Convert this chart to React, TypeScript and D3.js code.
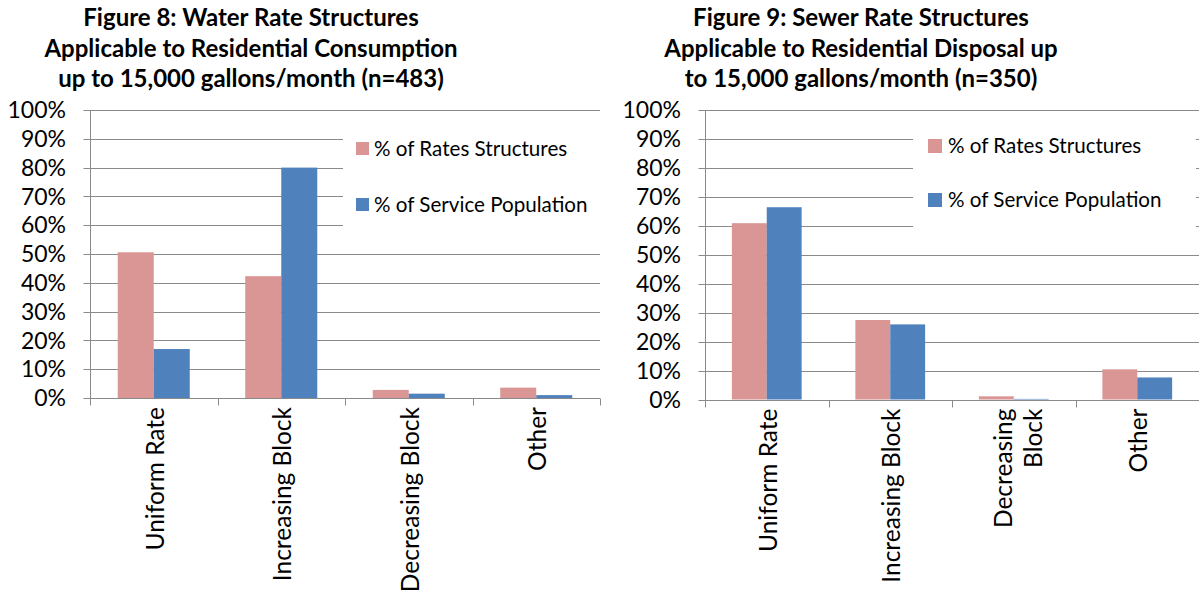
import * as d3 from "d3";
import React, { useEffect, useRef } from "react";

const categories = ["Uniform Rate", "Increasing Block", "Decreasing Block", "Other"];
const seriesNames = ["% of Rates Structures", "% of Service Population"];
const seriesColors = ["#d99694", "#4f81bd"];

const waterRates = [50.6, 42.3, 2.8, 3.6];
const waterPopulation = [17.0, 80.0, 1.5, 1.0];
const sewerRates = [60.8, 27.4, 1.1, 10.4];
const sewerPopulation = [66.3, 25.9, 0.2, 7.6];

const yTicks = [0, 10, 20, 30, 40, 50, 60, 70, 80, 90, 100];

const waterTitle = [
  "Figure 8: Water Rate Structures",
  "Applicable to Residential Consumption",
  "up to 15,000 gallons/month (n=483)",
];
const sewerTitle = [
  "Figure 9: Sewer Rate Structures",
  "Applicable to Residential Disposal up",
  "to 15,000 gallons/month (n=350)",
];
const waterCategoryLines = [["Uniform Rate"], ["Increasing Block"], ["Decreasing Block"], ["Other"]];
const sewerCategoryLines = [["Uniform Rate"], ["Increasing Block"], ["Decreasing", "Block"], ["Other"]];

const FONT = "Lato, 'Open Sans', sans-serif";
const GRID = "#8a8a8a";

type ChartOpts = {
  left: number;
  right: number;
  top: number;
  bottom: number;
  titleX: number;
  labelRight: number;
  rates: number[];
  pop: number[];
  title: string[];
  catLines: string[][];
  legend: { x: number; y: number; w: number; h: number; sx: number; sy: number[]; size: number; tx: number };
};

function drawChart(root: d3.Selection<SVGSVGElement, unknown, null, undefined>, o: ChartOpts) {
  const g = root.append("g");
  const x = d3.scaleBand().domain(categories).range([o.left, o.right]);
  const xs = d3.scaleBand().domain(seriesNames).range([0, x.bandwidth()]).paddingOuter(0.77);
  const y = d3.scaleLinear().domain([0, 100]).range([o.bottom, o.top]);
  const crisp = (v: number) => Math.round(v) + 0.5;

  // title
  g.append("text")
    .attr("x", o.titleX)
    .attr("font-family", FONT)
    .attr("font-weight", "bold")
    .attr("font-size", 24)
    .attr("text-anchor", "middle")
    .selectAll("tspan")
    .data(o.title)
    .join("tspan")
    .attr("x", o.titleX)
    .attr("y", (_, i) => 26 + i * 30.5)
    .text((d) => d);

  // gridlines
  g.selectAll("line.grid")
    .data(yTicks.slice(1))
    .join("line")
    .attr("x1", o.left)
    .attr("x2", o.right)
    .attr("y1", (d) => crisp(y(d)))
    .attr("y2", (d) => crisp(y(d)))
    .attr("stroke", GRID)
    .attr("stroke-width", 1);

  // legend background
  const lg = o.legend;
  g.append("rect").attr("x", lg.x).attr("y", lg.y).attr("width", lg.w).attr("height", lg.h).attr("fill", "#fff");

  // axes
  g.append("line")
    .attr("x1", crisp(o.left)).attr("x2", crisp(o.left))
    .attr("y1", crisp(y(100))).attr("y2", crisp(y(0)))
    .attr("stroke", GRID);
  g.selectAll("line.ytick")
    .data(yTicks)
    .join("line")
    .attr("x1", crisp(o.left) - 7).attr("x2", crisp(o.left))
    .attr("y1", (d) => crisp(y(d))).attr("y2", (d) => crisp(y(d)))
    .attr("stroke", GRID);

  g.selectAll("text.ylab")
    .data(yTicks)
    .join("text")
    .attr("x", o.labelRight)
    .attr("y", (d) => y(d))
    .attr("dy", "0.36em")
    .attr("text-anchor", "end")
    .attr("font-family", FONT)
    .attr("font-size", 23)
    .attr("fill", "#000")
    .text((d) => `${d}%`);

  // bars
  const series = [o.rates, o.pop];
  series.forEach((vals, si) => {
    g.selectAll(`rect.s${si}`)
      .data(vals)
      .join("rect")
      .attr("x", (_, i) => (x(categories[i]) ?? 0) + (xs(seriesNames[si]) ?? 0))
      .attr("width", xs.bandwidth())
      .attr("y", (d) => y(d))
      .attr("height", (d) => y(0) - y(d))
      .attr("fill", seriesColors[si]);
  });

  // x axis
  g.append("line")
    .attr("x1", o.left).attr("x2", o.right)
    .attr("y1", crisp(y(0))).attr("y2", crisp(y(0)))
    .attr("stroke", GRID);
  const bounds = categories.map((c) => x(c) ?? 0).concat([o.right]);
  g.selectAll("line.xtick")
    .data(bounds)
    .join("line")
    .attr("x1", (d) => crisp(d)).attr("x2", (d) => crisp(d))
    .attr("y1", crisp(y(0))).attr("y2", crisp(y(0)) + 7)
    .attr("stroke", GRID);

  const lineGap = 30;
  categories.forEach((c, i) => {
    const cx = (x(c) ?? 0) + x.bandwidth() / 2;
    const lines = o.catLines[i];
    lines.forEach((ln, li) => {
      const off = (li - (lines.length - 1) / 2) * lineGap + (lines.length > 1 ? 4 : 1);
      g.append("text")
        .attr("transform", `translate(${cx + off},${y(0) + 9}) rotate(-90)`)
        .attr("text-anchor", "end")
        .attr("dy", "0.36em")
        .attr("font-family", FONT)
        .attr("font-size", 24.5)
        .text(ln);
    });
  });

  // legend
  seriesNames.forEach((s, i) => {
    g.append("rect")
      .attr("x", lg.sx).attr("y", lg.sy[i])
      .attr("width", lg.size).attr("height", lg.size)
      .attr("fill", seriesColors[i]);
    g.append("text")
      .attr("x", lg.tx)
      .attr("y", lg.sy[i] + lg.size / 2)
      .attr("dy", "0.36em")
      .attr("font-family", FONT)
      .attr("font-size", 20.6)
      .text(s);
  });
}

export default function App() {
  const ref = useRef<SVGSVGElement>(null);

  useEffect(() => {
    const svg = d3.select(ref.current!);
    svg.selectAll("*").remove();
    svg.append("rect").attr("width", 1199).attr("height", 592).attr("fill", "#fff");

    drawChart(svg as any, {
      left: 90, right: 600, top: 110, bottom: 398,
      titleX: 251, labelRight: 66,
      rates: waterRates, pop: waterPopulation,
      title: waterTitle, catLines: waterCategoryLines,
      legend: { x: 343, y: 116, w: 262, h: 132, sx: 356, sy: [142, 198], size: 13, tx: 374 },
    });
    drawChart(svg as any, {
      left: 705, right: 1199, top: 109.5, bottom: 399.5,
      titleX: 861, labelRight: 681,
      rates: sewerRates, pop: sewerPopulation,
      title: sewerTitle, catLines: sewerCategoryLines,
      legend: { x: 913, y: 114, w: 283, h: 134, sx: 928, sy: [139, 193], size: 14, tx: 948 },
    });
  }, []);

  return (
    <svg
      ref={ref}
      width={1199}
      height={592}
      style={{ position: "absolute", left: 0, top: 0, display: "block" }}
    />
  );
}
